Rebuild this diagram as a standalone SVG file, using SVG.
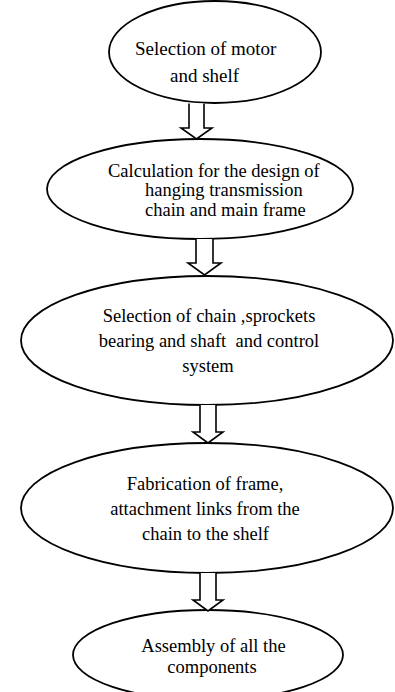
<svg xmlns="http://www.w3.org/2000/svg" width="395" height="692" viewBox="0 0 395 692">
<style>
.node ellipse{fill:#fff;stroke:#000;stroke-width:1.8}
.node text{font-family:"Liberation Serif","Times New Roman",serif;font-size:18.5px;fill:#000}
.conn path{fill:#fff;stroke:#000;stroke-width:1.6;stroke-linejoin:miter}
</style>
<rect width="395" height="692" fill="#fff"/>
<g id="n1" class="node">
<ellipse cx="215" cy="52" rx="106" ry="51"/>
<text x="135" y="55" style="font-size:19px">Selection of motor</text>
<text x="170" y="82" style="font-size:19px">and shelf</text>
</g>
<g id="n2" class="node">
<ellipse cx="200" cy="189" rx="153" ry="50"/>
<text x="108" y="177">Calculation for the design of</text>
<text x="145" y="196">hanging transmission</text>
<text x="145" y="216">chain and main frame</text>
</g>
<g id="n3" class="node">
<ellipse cx="207" cy="340.5" rx="186" ry="64.5"/>
<text x="209" y="322" text-anchor="middle">Selection of chain ,sprockets</text>
<text x="209" y="347" text-anchor="middle" xml:space="preserve">bearing and shaft  and control</text>
<text x="208" y="372" text-anchor="middle">system</text>
</g>
<g id="n4" class="node">
<ellipse cx="207" cy="508" rx="186" ry="65"/>
<text x="205" y="490" text-anchor="middle">Fabrication of frame,</text>
<text x="205" y="515" text-anchor="middle">attachment links from the</text>
<text x="205.5" y="540" text-anchor="middle">chain to the shelf</text>
</g>
<g id="n5" class="node">
<ellipse cx="208" cy="655" rx="135" ry="45"/>
<text x="213.5" y="652" text-anchor="middle">Assembly of all the</text>
<text x="212" y="673" text-anchor="middle">components</text>
</g>
<g id="connectors" class="conn">
<path d="M189 103.5 V128 H181 L196.5 139 L212 128 H204 V103.5"/>
<path d="M196 239 V263 H188 L204.5 275 L221 263 H213 V239"/>
<path d="M200 405 V432 H193 L208 443 L223 432 H216 V405"/>
<path d="M200 573 V600 H193 L208 611 L223 600 H216 V573"/>
</g>
</svg>
